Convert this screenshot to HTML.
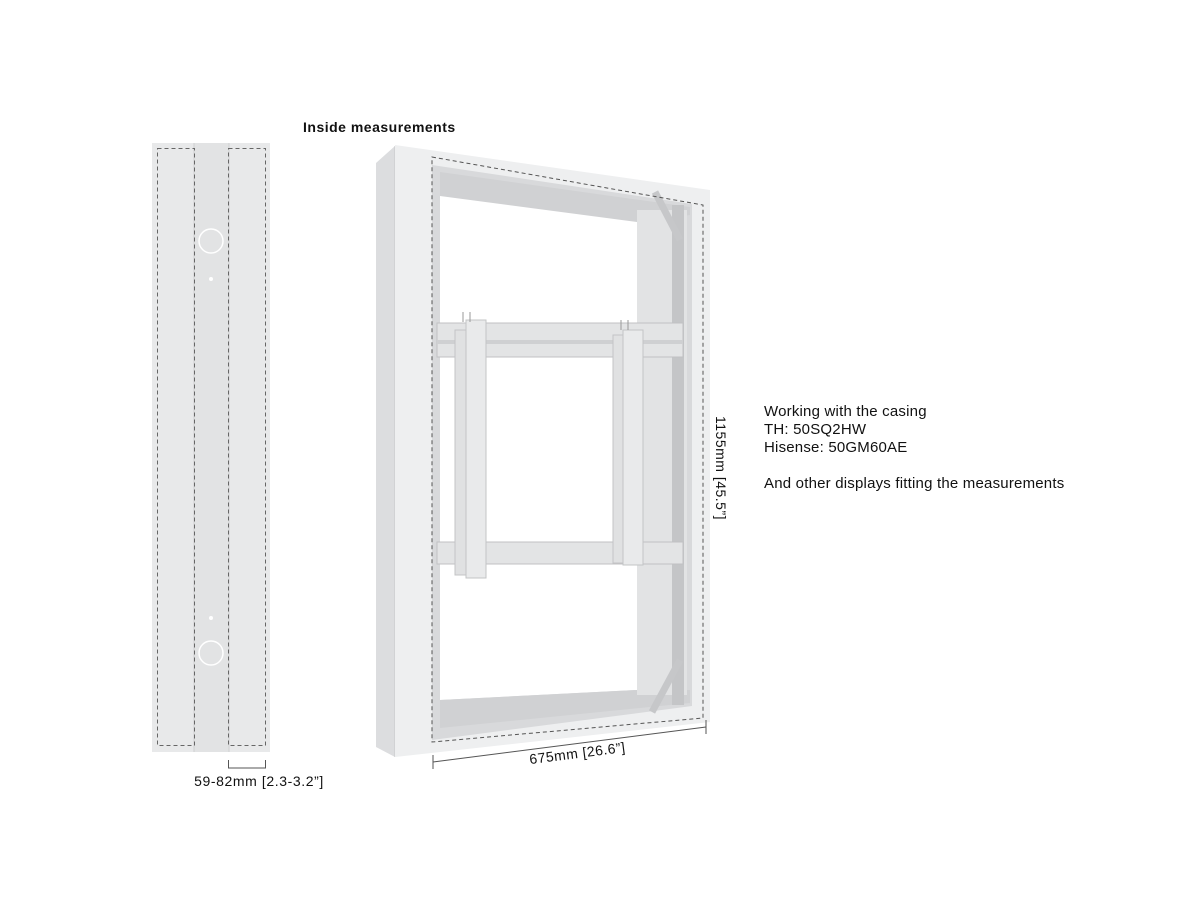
<!DOCTYPE html>
<html><head><style>
html,body{margin:0;padding:0;background:#fff;}
svg{display:block;font-family:"Liberation Sans",sans-serif;}
</style></head><body>
<svg width="1200" height="900" viewBox="0 0 1200 900" xmlns="http://www.w3.org/2000/svg">
<!-- Left side piece -->
<rect x="152" y="143" width="118" height="609" fill="#e8e9ea"/>
<rect x="194" y="143" width="35" height="609" fill="#e2e3e4"/>
<line x1="194" y1="143" x2="194" y2="752" stroke="#cfd0d1"/>
<line x1="229" y1="143" x2="229" y2="752" stroke="#cfd0d1"/>
<g fill="none" stroke="#666" stroke-width="1" stroke-dasharray="4,3">
<rect x="157.5" y="148.5" width="37" height="597"/>
<rect x="228.5" y="148.5" width="37" height="597"/>
</g>
<circle cx="211" cy="241" r="12" fill="none" stroke="#fff" stroke-width="1.5"/>
<circle cx="211" cy="279" r="2" fill="#fff"/>
<circle cx="211" cy="653" r="12" fill="none" stroke="#fff" stroke-width="1.5"/>
<circle cx="211" cy="618" r="2" fill="#fff"/>
<g stroke="#555" fill="none"><path d="M228.5 760v8h37v-8"/></g>
<text x="259" y="786" font-size="14" letter-spacing="0.6" text-anchor="middle" fill="#111">59-82mm [2.3-3.2”]</text>

<text x="303" y="132" font-size="14" letter-spacing="0.5" font-weight="bold" fill="#111">Inside measurements</text>

<!-- Main frame -->
<polygon points="376,163 395,146 395,757 376,747" fill="#dcdddf"/>
<line x1="395" y1="146" x2="395" y2="757" stroke="#c6c7c8"/>
<polygon points="395,145 710,190 710,722 395,757" fill="#eeeff0"/>
<polygon points="432,165 692,204 692,706 432,740" fill="#d8d9db"/>
<polygon points="440,195 637,220 637,690 440,700" fill="#fff"/>
<polygon points="440,172 690,207 690,215 637,222 440,196" fill="#d0d1d3"/>
<polygon points="440,700 637,690 690,690 690,703 440,728" fill="#d0d1d3"/>
<rect x="637" y="210" width="50" height="485" fill="#e2e3e4"/>
<rect x="672" y="205" width="12" height="500" fill="#c4c5c7"/>
<line x1="655" y1="192" x2="680" y2="240" stroke="#c6c7c9" stroke-width="7"/>
<line x1="680" y1="660" x2="652" y2="712" stroke="#c6c7c9" stroke-width="7"/>
<!-- crossbars -->
<rect x="437" y="323" width="246" height="34" fill="#e3e4e5" stroke="#c0c1c3"/>
<rect x="437" y="340" width="246" height="4" fill="#cfd0d2"/>
<rect x="437" y="542" width="246" height="22" fill="#e3e4e5" stroke="#c0c1c3"/>
<!-- brackets -->
<rect x="455" y="330" width="14" height="245" fill="#e0e1e2" stroke="#c3c4c6"/>
<rect x="466" y="320" width="20" height="258" fill="#e9eaeb" stroke="#c3c4c6"/>
<rect x="613" y="335" width="12" height="228" fill="#e0e1e2" stroke="#c3c4c6"/>
<rect x="623" y="330" width="20" height="235" fill="#e9eaeb" stroke="#c3c4c6"/>
<g stroke="#999"><line x1="463" y1="312" x2="463" y2="322"/><line x1="470" y1="312" x2="470" y2="322"/><line x1="621" y1="320" x2="621" y2="330"/><line x1="628" y1="320" x2="628" y2="330"/></g>
<!-- dashed outline -->
<polygon points="432,157 703,205 703,718 432,742" fill="none" stroke="#555" stroke-dasharray="4,3"/>
<!-- dims -->
<g stroke="#555" fill="none">
<line x1="433" y1="762" x2="706" y2="727"/>
<line x1="433" y1="755" x2="433" y2="769"/>
<line x1="706" y1="720" x2="706" y2="734"/>
</g>
<text x="578" y="758" font-size="14" letter-spacing="0.5" text-anchor="middle" fill="#111" transform="rotate(-7.3 578 758)">675mm [26.6”]</text>
<text x="0" y="0" font-size="14" letter-spacing="0.5" text-anchor="middle" fill="#111" transform="translate(716 468) rotate(90)">1155mm [45.5”]</text>

<g font-size="15" letter-spacing="0.2" fill="#111">
<text x="764" y="416">Working with the casing</text>
<text x="764" y="434">TH: 50SQ2HW</text>
<text x="764" y="452">Hisense: 50GM60AE</text>
<text x="764" y="488">And other displays fitting the measurements</text>
</g>
</svg>
</body></html>
